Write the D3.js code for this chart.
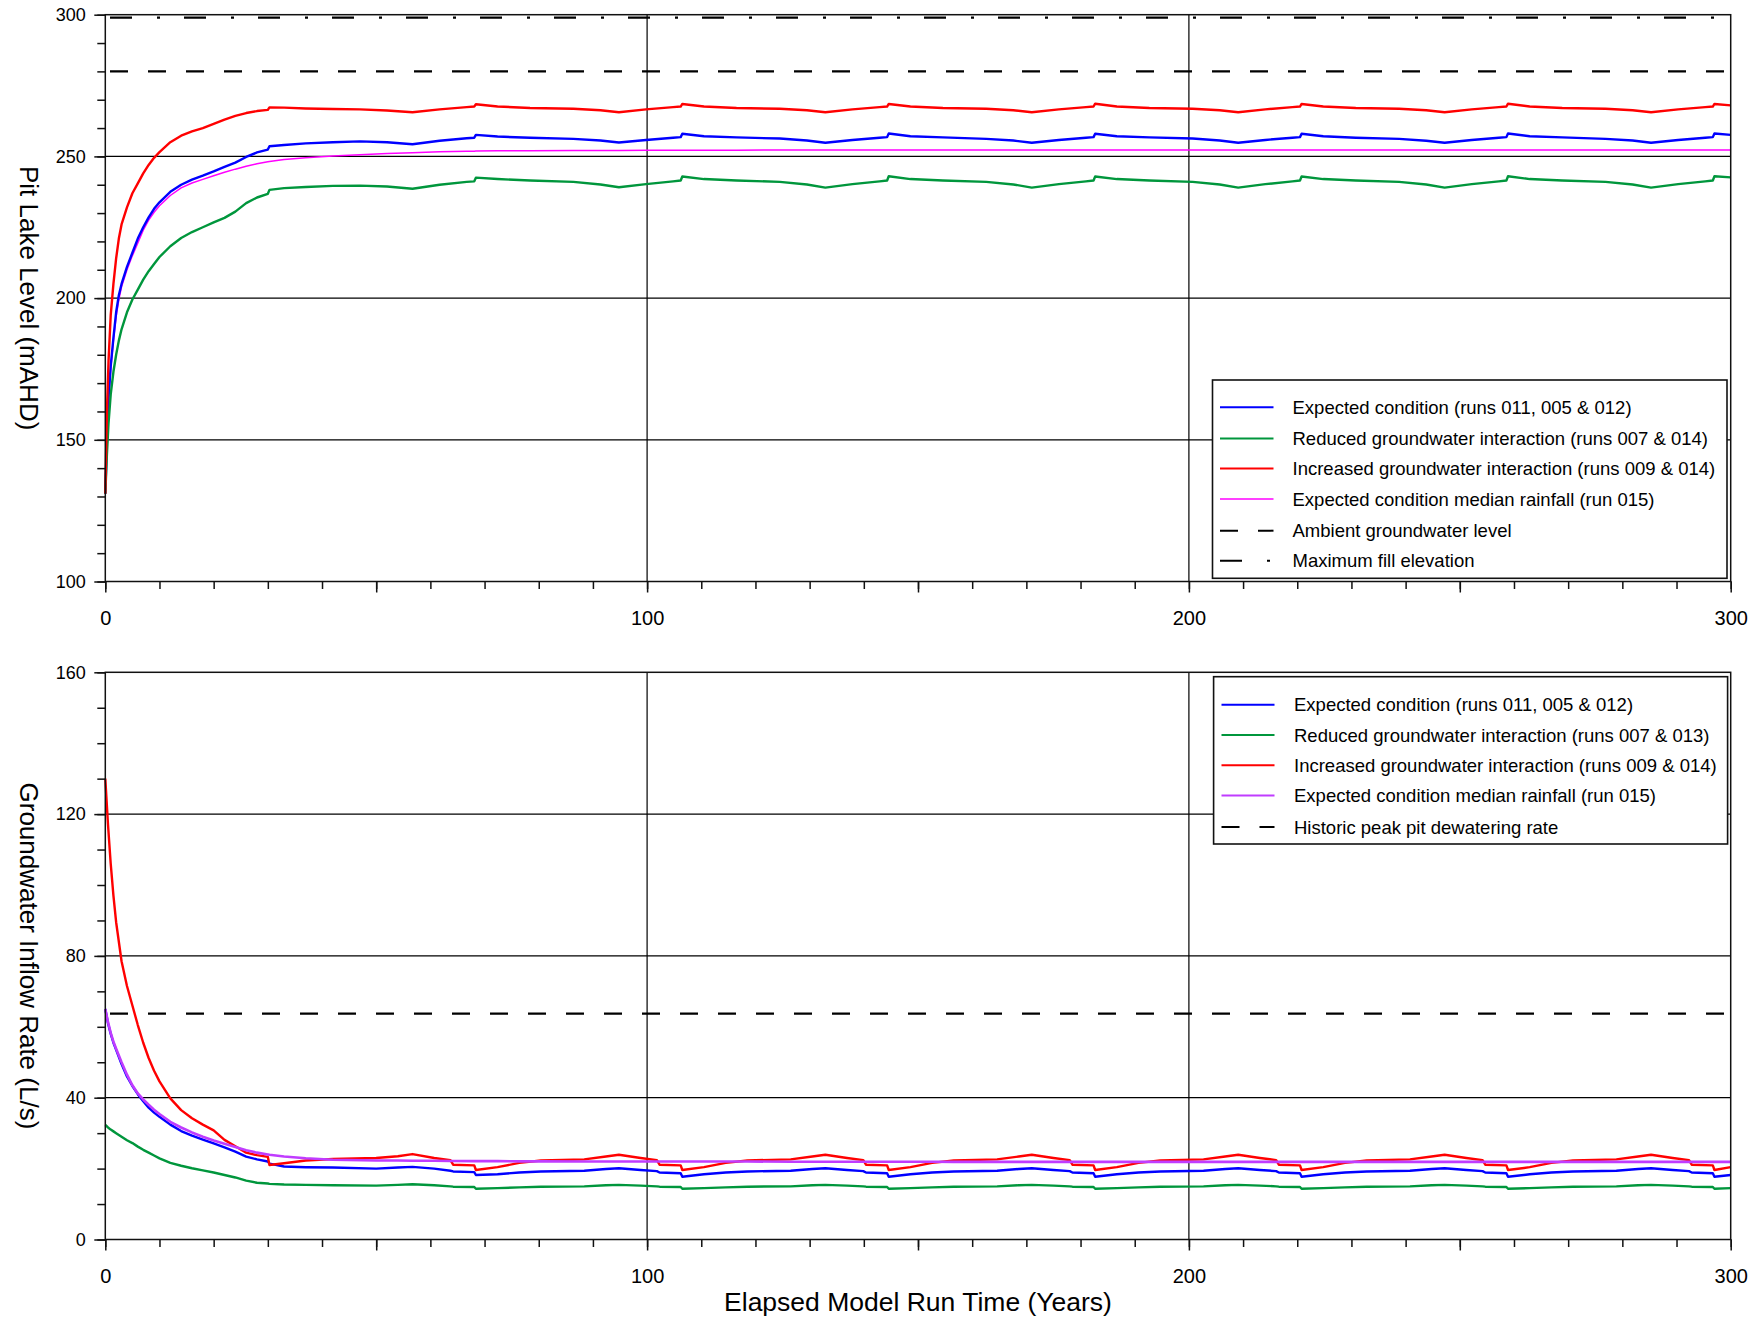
<!DOCTYPE html>
<html>
<head>
<meta charset="utf-8">
<script src="https://cdn.jsdelivr.net/npm/d3@7"></script>
<style>
  body { margin: 0; background: #fff; }
  svg { display: block; font-family: "Liberation Sans", Arial, sans-serif; }
</style>
</head>
<body>
<div id="chart"></div>
<script>
// ---- data ----
// top panel: pit lake level (mAHD)
const topYears = [0, 0.3, 0.6, 1, 1.5, 2, 2.5, 3, 4, 5, 6, 7, 8, 9, 10, 12, 14, 16, 18, 20, 22, 24, 26, 28, 30, 30.3, 33, 37, 42, 47, 52, 56.7, 61.7, 66.7, 68.1, 68.4,
  72.4, 78.4, 86.4, 91.4, 94.8, 99.8, 104.8, 106.2, 106.5,
  110.5, 116.5, 124.5, 129.5, 132.9, 137.9, 142.9, 144.3, 144.6,
  148.6, 154.6, 162.6, 167.6, 171.0, 176.0, 181.0, 182.4, 182.7,
  186.7, 192.7, 200.7, 205.7, 209.1, 214.1, 219.1, 220.5, 220.8,
  224.8, 230.8, 238.8, 243.8, 247.2, 252.2, 257.2, 258.6, 258.9,
  262.9, 268.9, 276.9, 281.9, 285.3, 290.3, 295.3, 296.7, 297.0,
  300];
const levelExpected = [131, 150, 165, 176, 186, 195, 201, 205, 211, 216, 221, 225, 228.5, 231.5, 233.8, 237.5, 240, 241.8, 243.2, 244.7, 246.3, 247.8, 249.8, 251.4, 252.4, 253.6, 254, 254.6, 255, 255.3, 255, 254.3, 255.5, 256.4, 256.6, 257.6,
  257.0, 256.6, 256.2, 255.6, 254.9, 255.8, 256.6, 256.8, 258.0,
  257.1, 256.7, 256.3, 255.6, 254.8, 255.8, 256.6, 256.8, 258.1,
  257.1, 256.7, 256.2, 255.6, 254.8, 255.8, 256.6, 256.8, 258.0,
  257.1, 256.7, 256.3, 255.6, 254.8, 255.8, 256.6, 256.8, 258.0,
  257.1, 256.6, 256.2, 255.5, 254.8, 255.8, 256.6, 256.8, 258.1,
  257.1, 256.7, 256.2, 255.6, 254.8, 255.8, 256.6, 256.8, 258.1,
  257.6];
const levelReduced = [131, 145, 156, 166, 174, 180, 185, 189, 195, 199.5, 203, 206.5, 209.5, 212, 214.5, 218.3, 221.2, 223.3, 225, 226.7, 228.3, 230.5, 233.5, 235.5, 236.8, 238.2, 238.8, 239.2, 239.6, 239.7, 239.4, 238.6, 240, 241, 241.2, 242.5,
  242.0, 241.5, 241.0, 240.1, 239.1, 240.2, 241.2, 241.5, 242.9,
  242.0, 241.5, 241.0, 240.1, 239.0, 240.2, 241.2, 241.5, 243.0,
  242.0, 241.5, 241.0, 240.1, 239.0, 240.2, 241.2, 241.5, 242.9,
  242.0, 241.5, 241.0, 240.1, 239.0, 240.2, 241.2, 241.5, 242.9,
  242.0, 241.5, 241.0, 240.1, 239.0, 240.2, 241.2, 241.5, 243.0,
  242.0, 241.5, 241.0, 240.1, 239.0, 240.2, 241.2, 241.5, 243.0,
  242.6];
const levelIncreased = [131, 160, 178, 194, 205, 214, 221, 226, 232, 237, 240.5, 244, 247, 249.5, 251.5, 255, 257.3, 258.8, 260, 261.5, 263, 264.3, 265.3, 266, 266.4, 267.3, 267.2, 266.9, 266.7, 266.6, 266.2, 265.6, 266.6, 267.4, 267.6, 268.4,
  267.6, 267.1, 266.8, 266.3, 265.6, 266.6, 267.4, 267.6, 268.5,
  267.6, 267.1, 266.8, 266.3, 265.6, 266.6, 267.4, 267.6, 268.5,
  267.6, 267.1, 266.8, 266.3, 265.6, 266.6, 267.4, 267.6, 268.6,
  267.6, 267.1, 266.8, 266.3, 265.6, 266.6, 267.4, 267.6, 268.5,
  267.6, 267.1, 266.8, 266.3, 265.6, 266.6, 267.4, 267.6, 268.6,
  267.6, 267.1, 266.8, 266.3, 265.6, 266.6, 267.4, 267.6, 268.5,
  268.0];
const levelMedian = [131, 150, 164, 175, 185, 193.5, 199.5, 204, 210, 215, 219.5, 224, 227.5, 230.3, 232.6, 236.2, 238.9, 240.6, 241.9, 243.2, 244.4, 245.5, 246.5, 247.4, 248.1, 248.2, 248.9, 249.5, 250.1, 250.6, 251, 251.3, 251.6, 251.8, 251.85, 251.9,
  251.95, 252.0, 252.05, 252.1, 252.1, 252.15, 252.15, 252.2, 252.2,
  252.2, 252.2, 252.25, 252.25, 252.25, 252.25, 252.25, 252.3, 252.3,
  252.3, 252.3, 252.3, 252.3, 252.3, 252.3, 252.3, 252.3, 252.3,
  252.3, 252.3, 252.3, 252.3, 252.3, 252.3, 252.3, 252.3, 252.3,
  252.3, 252.3, 252.3, 252.3, 252.3, 252.3, 252.3, 252.3, 252.3,
  252.3, 252.3, 252.3, 252.3, 252.3, 252.3, 252.3, 252.3, 252.3,
  252.3];
const ambientLevel = 280;
const maxFillLevel = 299;

// bottom panel: groundwater inflow rate (L/s)
const botYears = [0, 0.5, 1, 1.5, 2, 3, 4, 5, 6, 7, 8, 9, 10, 12, 14, 16, 18, 20, 22, 24, 26, 28, 30, 30.3, 33, 37, 42, 50, 54, 56.7, 60.7, 63.7, 64.2, 68.1, 68.4,
  72.4, 76.4, 80.4, 88.4, 92.4, 94.8, 98.8, 101.8, 102.3, 106.2, 106.5,
  110.5, 114.5, 118.5, 126.5, 130.5, 132.9, 136.9, 139.9, 140.4, 144.3, 144.6,
  148.6, 152.6, 156.6, 164.6, 168.6, 171.0, 175.0, 178.0, 178.5, 182.4, 182.7,
  186.7, 190.7, 194.7, 202.7, 206.7, 209.1, 213.1, 216.1, 216.6, 220.5, 220.8,
  224.8, 228.8, 232.8, 240.8, 244.8, 247.2, 251.2, 254.2, 254.7, 258.6, 258.9,
  262.9, 266.9, 270.9, 278.9, 282.9, 285.3, 289.3, 292.3, 292.8, 296.7, 297.0,
  300];
const inflowExpected = [65, 61, 58, 55.5, 53.5, 49.5, 46, 43.3, 41, 39, 37.2, 35.8, 34.6, 32.4, 30.6, 29.3, 28.2, 27.1, 26, 24.8, 23.4, 22.6, 22.0, 21.4, 20.6, 20.4, 20.3, 20.0, 20.3, 20.5, 20.0, 19.4, 19.2, 19.0, 18.2,
  18.4, 18.9, 19.2, 19.4, 19.9, 20.1, 19.6, 19.3, 18.9, 18.7, 17.7,
  18.4, 18.9, 19.2, 19.4, 19.9, 20.1, 19.6, 19.3, 18.9, 18.7, 17.7,
  18.4, 18.9, 19.2, 19.4, 19.9, 20.1, 19.6, 19.3, 18.9, 18.7, 17.7,
  18.4, 18.9, 19.2, 19.4, 19.9, 20.1, 19.6, 19.3, 18.9, 18.7, 17.7,
  18.4, 18.9, 19.2, 19.4, 19.9, 20.1, 19.6, 19.3, 18.9, 18.7, 17.7,
  18.4, 18.9, 19.2, 19.4, 19.9, 20.1, 19.6, 19.3, 18.9, 18.7, 17.7,
  18.2];
const inflowReduced = [32.3, 31.6, 31, 30.5, 30, 29, 28, 27.2, 26.2, 25.3, 24.5, 23.7, 22.9, 21.6, 20.8, 20.1, 19.5, 18.9, 18.2, 17.5, 16.6, 16.0, 15.8, 15.7, 15.5, 15.4, 15.3, 15.2, 15.4, 15.6, 15.3, 15.0, 14.9, 14.8, 14.3,
  14.5, 14.7, 14.9, 15.0, 15.3, 15.4, 15.2, 15.0, 14.9, 14.8, 14.3,
  14.5, 14.7, 14.9, 15.0, 15.3, 15.4, 15.2, 15.0, 14.9, 14.8, 14.3,
  14.5, 14.7, 14.9, 15.0, 15.3, 15.4, 15.2, 15.0, 14.9, 14.8, 14.3,
  14.5, 14.7, 14.9, 15.0, 15.3, 15.4, 15.2, 15.0, 14.9, 14.8, 14.3,
  14.5, 14.7, 14.9, 15.0, 15.3, 15.4, 15.2, 15.0, 14.9, 14.8, 14.3,
  14.5, 14.7, 14.9, 15.0, 15.3, 15.4, 15.2, 15.0, 14.9, 14.8, 14.3,
  14.5];
const inflowIncreased = [130, 117, 106, 97, 89.5, 78.5, 71.5, 66, 60.5, 55.5, 51.2, 47.6, 44.6, 39.8, 36.5, 34.2, 32.4, 30.8, 28.1, 26.3, 24.5, 23.8, 23.3, 21.0, 21.5, 22.3, 22.7, 23.0, 23.5, 24.1, 23.0, 22.4, 21.1, 20.9, 19.6,
  20.4, 21.6, 22.3, 22.6, 23.4, 23.9, 23.0, 22.4, 21.1, 20.9, 19.6,
  20.4, 21.6, 22.3, 22.6, 23.4, 23.9, 23.0, 22.4, 21.1, 20.9, 19.6,
  20.4, 21.6, 22.3, 22.6, 23.4, 23.9, 23.0, 22.4, 21.1, 20.9, 19.6,
  20.4, 21.6, 22.3, 22.6, 23.4, 23.9, 23.0, 22.4, 21.1, 20.9, 19.6,
  20.4, 21.6, 22.3, 22.6, 23.4, 23.9, 23.0, 22.4, 21.1, 20.9, 19.6,
  20.4, 21.6, 22.3, 22.6, 23.4, 23.9, 23.0, 22.4, 21.1, 20.9, 19.6,
  20.4];
const inflowMedian = [65, 61.3, 58.3, 55.8, 53.8, 50, 46.5, 43.5, 41.2, 39.5, 38, 36.6, 35.4, 33.2, 31.6, 30.2, 29, 27.9, 27, 26.1, 25.2, 24.5, 24.0, 23.9, 23.4, 22.9, 22.5, 22.3, 22.3, 22.2, 22.2, 22.15, 22.15, 22.1, 22.1,
  22.1, 22.05, 22.05, 22.0, 22.0, 22.0, 22.0, 22.0, 22.0, 22.0, 22.0,
  22.0, 22.0, 22.0, 21.95, 21.95, 21.95, 21.95, 21.95, 21.95, 21.95, 21.95,
  21.95, 21.95, 21.9, 21.9, 21.9, 21.9, 21.9, 21.9, 21.9, 21.9, 21.9,
  21.9, 21.9, 21.9, 21.9, 21.9, 21.9, 21.9, 21.9, 21.9, 21.9, 21.9,
  21.9, 21.9, 21.9, 21.9, 21.9, 21.9, 21.9, 21.9, 21.9, 21.9, 21.9,
  21.9, 21.9, 21.9, 21.9, 21.9, 21.9, 21.9, 21.9, 21.9, 21.9, 21.9,
  21.9];
const historicPeak = 63.7;

const topLabels = [
  'Expected condition (runs 011, 005 & 012)',
  'Reduced groundwater interaction (runs 007 & 014)',
  'Increased groundwater interaction (runs 009 & 014)',
  'Expected condition median rainfall (run 015)',
  'Ambient groundwater level',
  'Maximum fill elevation'
];
const botLabels = [
  'Expected condition (runs 011, 005 & 012)',
  'Reduced groundwater interaction (runs 007 & 013)',
  'Increased groundwater interaction (runs 009 & 014)',
  'Expected condition median rainfall (run 015)',
  'Historic peak pit dewatering rate'
];

// ---- drawing ----
const width = 1762, height = 1318;
const left = 105.3, right = 1730.7;
const dashAmb = '18,20', dashMax = '22,25,3,24';

const svg = d3.select('#chart').append('svg')
  .attr('width', width)
  .attr('height', height);

const x = d3.scaleLinear().domain([0, 300]).range([left, right]);

const lineGen = (xs, y) => d3.line()
  .x((d, i) => x(xs[i]))
  .y(d => y(d))
  .curve(d3.curveLinear);

function panel(cfg) {
  const y = d3.scaleLinear().domain(cfg.domain).range([cfg.bottom, cfg.top]);
  const g = svg.append('g');

  // grid
  g.selectAll('.hgrid').data(cfg.grid).enter().append('line')
    .attr('x1', left).attr('x2', right)
    .attr('y1', d => y(d)).attr('y2', d => y(d))
    .attr('stroke', '#000').attr('stroke-width', 1.2);
  g.selectAll('.vgrid').data([100, 200]).enter().append('line')
    .attr('x1', d => x(d)).attr('x2', d => x(d))
    .attr('y1', cfg.top).attr('y2', cfg.bottom)
    .attr('stroke', '#000').attr('stroke-width', 1.2);

  // reference lines
  cfg.refs.forEach(r => {
    g.append('path')
      .attr('d', lineGen([0, 300], y)([r.value, r.value]))
      .attr('fill', 'none')
      .attr('stroke', '#000')
      .attr('stroke-width', 2.2)
      .attr('stroke-dasharray', r.dash)
      .attr('stroke-dashoffset', r.offset);
  });

  // series
  cfg.series.forEach(s => {
    g.append('path')
      .attr('d', lineGen(cfg.years, y)(s.values))
      .attr('fill', 'none')
      .attr('stroke', s.color)
      .attr('stroke-width', s.width)
      .attr('stroke-linejoin', 'round');
  });

  // frame
  g.append('rect')
    .attr('x', left).attr('y', cfg.top)
    .attr('width', right - left).attr('height', cfg.bottom - cfg.top)
    .attr('fill', 'none').attr('stroke', '#111').attr('stroke-width', 1.5);

  // y axis: minor + major
  const yMin = g.append('g').attr('transform', `translate(${left},0)`)
    .call(d3.axisLeft(y).tickValues(d3.range(cfg.domain[0], cfg.domain[1] + 1, cfg.minor)).tickSize(8).tickFormat(''));
  const yMaj = g.append('g').attr('transform', `translate(${left},0)`)
    .call(d3.axisLeft(y).tickValues(d3.range(cfg.domain[0], cfg.domain[1] + 1, cfg.major)).tickSize(11).tickPadding(8.6));
  // x axis
  const xMin = g.append('g').attr('transform', `translate(0,${cfg.bottom})`)
    .call(d3.axisBottom(x).tickValues(d3.range(0, 301, 10)).tickSize(7.5).tickFormat(''));
  const xMaj = g.append('g').attr('transform', `translate(0,${cfg.bottom})`)
    .call(d3.axisBottom(x).tickValues(d3.range(0, 301, 50)).tickSize(11).tickPadding(18.2)
      .tickFormat(d => d % 100 === 0 ? d : ''));
  [yMin, yMaj, xMin, xMaj].forEach(a => {
    a.select('.domain').remove();
    a.selectAll('line').attr('stroke', '#111').attr('stroke-width', 1.5);
    a.selectAll('text').attr('fill', '#000').style('font-family', '"Liberation Sans", Arial, sans-serif');
  });
  yMaj.selectAll('text').style('font-size', '18px');
  xMaj.selectAll('text').style('font-size', '20px');

  // axis title
  svg.append('text')
    .attr('transform', `translate(29,${(cfg.top + cfg.bottom) / 2}) rotate(90)`)
    .attr('text-anchor', 'middle')
    .attr('dominant-baseline', 'central')
    .style('font-size', '26px')
    .text(cfg.title);

  // legend
  const L = cfg.legend;
  const lg = svg.append('g');
  lg.append('rect')
    .attr('x', L.x0).attr('y', L.y0)
    .attr('width', L.x1 - L.x0).attr('height', L.y1 - L.y0)
    .attr('fill', '#fff').attr('stroke', '#111').attr('stroke-width', 1.6);
  L.items.forEach((it, i) => {
    const yy = L.rows[i];
    lg.append('line')
      .attr('x1', L.lx0).attr('x2', L.lx1)
      .attr('y1', yy).attr('y2', yy)
      .attr('stroke', it.color).attr('stroke-width', it.width)
      .attr('stroke-dasharray', it.dash || null);
    lg.append('text')
      .attr('x', L.tx).attr('y', yy)
      .attr('dominant-baseline', 'central')
      .style('font-size', '18.5px')
      .text(it.label);
  });
}

panel({
  domain: [100, 300], top: 14.7, bottom: 581.5,
  grid: [150, 200, 250], minor: 10, major: 50,
  years: topYears,
  title: 'Pit Lake Level (mAHD)',
  refs: [
    {value: ambientLevel, dash: dashAmb, offset: 33.3},
    {value: maxFillLevel, dash: dashMax, offset: 69.3}
  ],
  series: [
    {values: levelMedian, color: '#ff00ff', width: 1.5},
    {values: levelExpected, color: '#0000ff', width: 2.4},
    {values: levelReduced, color: '#00963c', width: 2.4},
    {values: levelIncreased, color: '#ff0000', width: 2.4}
  ],
  legend: {
    x0: 1212.5, y0: 380, x1: 1727, y1: 578.3,
    lx0: 1220, lx1: 1273.5, tx: 1292.5,
    rows: [407.2, 438.6, 468.5, 499.1, 530.7, 560.7],
    items: [
      {label: topLabels[0], color: '#0000ff', width: 2},
      {label: topLabels[1], color: '#00963c', width: 2},
      {label: topLabels[2], color: '#ff0000', width: 2},
      {label: topLabels[3], color: '#ff00ff', width: 1.5},
      {label: topLabels[4], color: '#000', width: 2, dash: dashAmb},
      {label: topLabels[5], color: '#000', width: 2, dash: dashMax}
    ]
  }
});

panel({
  domain: [0, 160], top: 672.3, bottom: 1239.5,
  grid: [40, 80, 120], minor: 10, major: 40,
  years: botYears,
  title: 'Groundwater Inflow Rate (L/s)',
  refs: [
    {value: historicPeak, dash: dashAmb, offset: 33.3}
  ],
  series: [
    {values: inflowExpected, color: '#0000ff', width: 2.4},
    {values: inflowReduced, color: '#00963c', width: 2.4},
    {values: inflowIncreased, color: '#ff0000', width: 2.4},
    {values: inflowMedian, color: '#c03cff', width: 2.6}
  ],
  legend: {
    x0: 1213.6, y0: 676.7, x1: 1727.6, y1: 844,
    lx0: 1221.5, lx1: 1274.5, tx: 1294,
    rows: [704.8, 735, 765.2, 795.5, 827],
    items: [
      {label: botLabels[0], color: '#0000ff', width: 2},
      {label: botLabels[1], color: '#00963c', width: 2},
      {label: botLabels[2], color: '#ff0000', width: 2},
      {label: botLabels[3], color: '#c03cff', width: 2},
      {label: botLabels[4], color: '#000', width: 2, dash: dashAmb}
    ]
  }
});

svg.append('text')
  .attr('x', x(150)).attr('y', 1311)
  .attr('text-anchor', 'middle')
  .style('font-size', '26.5px')
  .text('Elapsed Model Run Time (Years)');
</script>
</body>
</html>
